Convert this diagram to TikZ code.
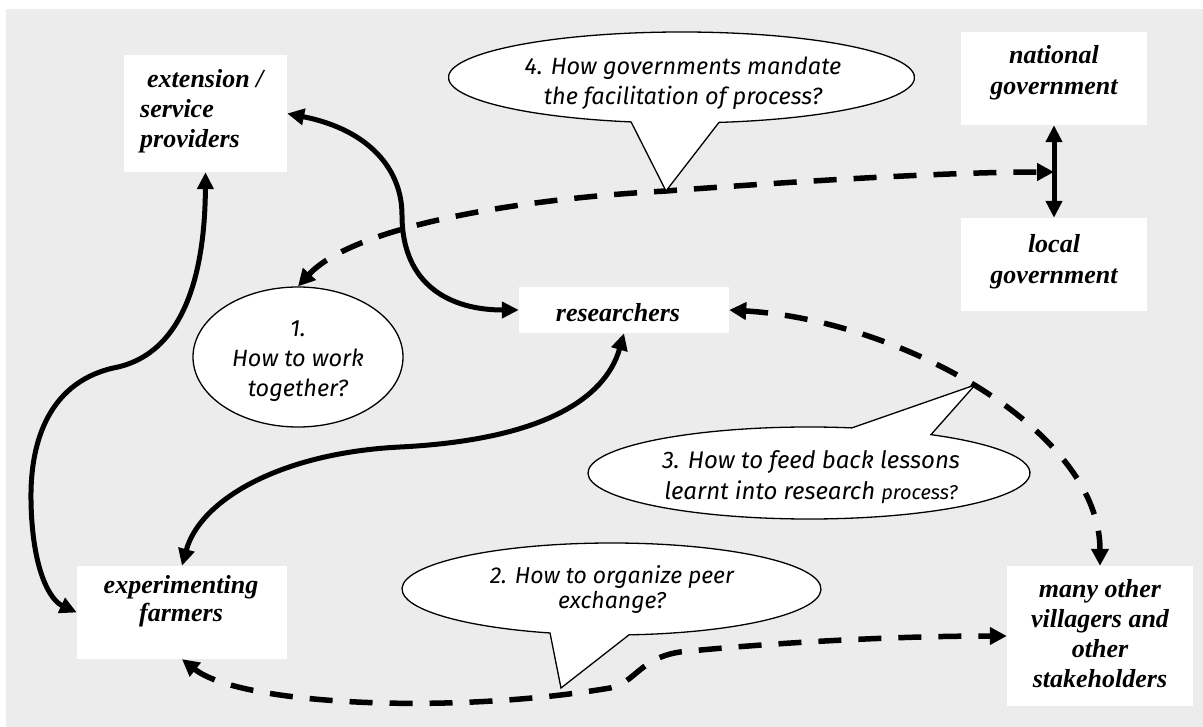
\documentclass[tikz,border=0pt]{standalone}
\usepackage{fontspec}
\setmainfont{Liberation Serif}
\newfontfamily\comic{Fira Sans}
\usetikzlibrary{arrows.meta,shapes.geometric}
\definecolor{bgc}{RGB}{236,236,236}
\begin{document}
\begin{tikzpicture}[x=1pt,y=1pt,
  box/.style={fill=white, draw=none, inner sep=0pt},
  btext/.style={inner sep=0pt, align=center, font=\fontsize{26}{30}\selectfont\bfseries\itshape},
  qtext/.style={inner sep=0pt, align=center, font=\comic\itshape\fontsize{23.5}{30}\selectfont},
  solidarrow/.style={line width=5pt, {Triangle[length=17pt,width=16pt]}-{Triangle[length=17pt,width=16pt]}},
  dasharrow/.style={line width=5.5pt, dash pattern=on 23pt off 17pt, {Triangle[length=17pt,width=17pt]}-{Triangle[length=17pt,width=17pt]}},
  bubble/.style={draw=black, fill=white, line width=1.3pt, line join=miter}
]
\useasboundingbox (0,0) rectangle (1203,-727);
\fill[bgc] (6,-9) rectangle (1203,-727);

% boxes
\node[box, minimum width=163pt, minimum height=117pt] (ext) at (205.5,-113.5) {};
\node[box, minimum width=210pt, minimum height=46pt] (res) at (624,-310) {};
\node[box, minimum width=186pt, minimum height=93pt] (nat) at (1054,-78.5) {};
\node[box, minimum width=186pt, minimum height=93pt] (loc) at (1054,-264.5) {};
\node[box, minimum width=210pt, minimum height=93pt] (farm) at (182,-612.5) {};
\node[box, minimum width=186pt, minimum height=140pt] (many) at (1100,-636) {};

\node[btext, align=left, anchor=west] (extT) at (140,-111) {\hspace{7pt}extension /\\service\\providers};
\node[btext] (resT) at (618,-313) {researchers};
\node[btext, font=\fontsize{26}{31}\selectfont\bfseries\itshape] (natT) at (1054,-73) {national\\government};
\node[btext, font=\fontsize{26}{31}\selectfont\bfseries\itshape] (locT) at (1054,-262) {local\\government};
\node[btext, font=\fontsize{26}{28}\selectfont\bfseries\itshape] (farmT) at (181,-601) {experimenting\\farmers};
\node[btext] (manyT) at (1100,-634) {many other\\villagers and\\other\\stakeholders};

\coordinate (junc) at (1054,-172);

% solid connectors
\draw[solidarrow] (ext.east) .. controls (370,-130) and (402,-170) .. (402,-215)
      .. controls (402,-285) and (450,-310) .. (res.west);
\draw[solidarrow] (ext.south) .. controls (205,-260) and (190,-350) .. (118,-367)
      .. controls (50,-380) and (30,-440) .. (31,-500)
      .. controls (32,-570) and (50,-600) .. (farm.west);
\draw[solidarrow] (res.south) .. controls (605,-400) and (540,-440) .. (400,-447)
      .. controls (280,-453) and (200,-500) .. (farm.north);
\draw[solidarrow] (nat.south) -- (loc.north);

% callout 1
\node[ellipse, bubble, minimum width=210pt, minimum height=140pt, inner sep=0pt] (c1) at (298,-357) {};
\node[qtext] (q1) at (298,-361) {1.\\How to work\\together?};

% dashed connectors
\draw[dasharrow] (c1.north) .. controls (350,-230) and (500,-200) .. (666,-191)
      .. controls (800,-181) and (950,-172) .. (junc);
\draw[dasharrow] (res.east) .. controls (900,-320) and (1100,-430) .. (many.north);
\draw[dasharrow] (farm.south) .. controls (240,-705) and (450,-715) .. (610,-688)
      .. controls (635,-683) and (640,-658) .. (680,-652)
      .. controls (780,-642) and (900,-636) .. (many.west);

% callout 4
\draw[bubble] (681.5,-77.5) ++(-80.74:233 and 45.5)
   arc[start angle=-80.74, end angle=257.5, x radius=233, y radius=45.5] -- (666,-191) -- cycle;
\node[qtext] (q4) at (683,-83) {4. How governments mandate\\the facilitation of process?};

% callout 3
\draw[bubble] (809,-473) ++(78.8:221 and 46)
   arc[start angle=78.8, end angle=416.5, x radius=221, y radius=46] -- (975,-385) -- cycle;
\node[qtext, font=\comic\itshape\fontsize{24}{31}\selectfont] (q3) at (811,-477) {3. How to feed back lessons\\learnt into research {\fontsize{20}{31}\selectfont process?}};

% callout 2
\draw[bubble] (611.5,-589) ++(-85.2:209.5 and 46)
   arc[start angle=-85.2, end angle=252.93, x radius=209.5, y radius=46] -- (561,-688) -- cycle;
\node[qtext, font=\comic\itshape\fontsize{23}{25}\selectfont] (q2) at (612,-590) {2. How to organize peer\\exchange?};
\end{tikzpicture}
\end{document}
